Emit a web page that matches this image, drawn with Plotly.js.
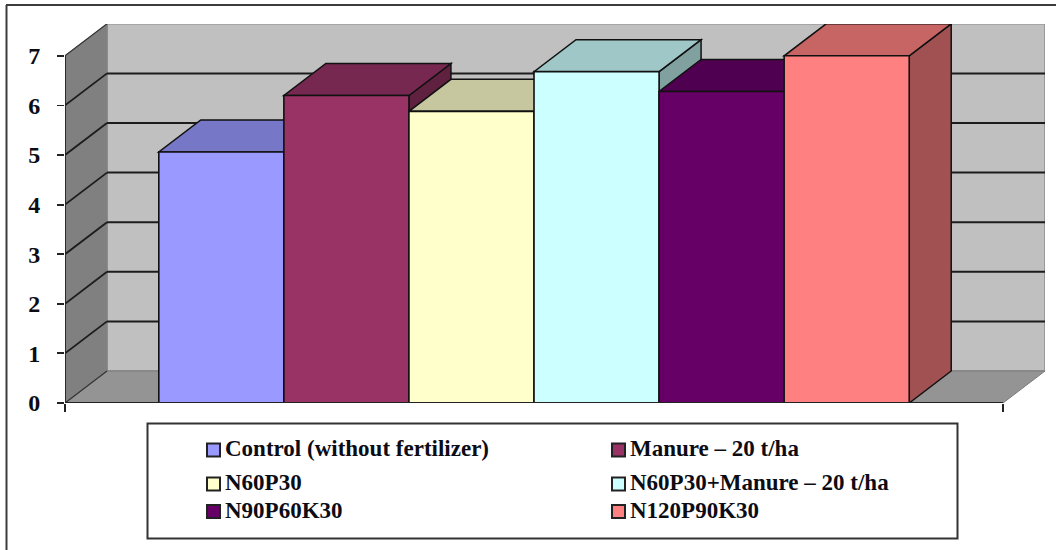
<!DOCTYPE html>
<html>
<head>
<meta charset="utf-8">
<script src="https://cdn.plot.ly/plotly-3.0.1.min.js"></script>
<style>html,body{margin:0;padding:0;background:#fff}</style>
</head>
<body>
<div id="chart" style="width:1056px;height:550px"></div>
<script>
// Yield by fertilizer treatment, drawn as a pseudo-3D column chart
const treatments = ["Control (without fertilizer)", "Manure – 20 t/ha", "N60P30",
                    "N60P30+Manure – 20 t/ha", "N90P60K30", "N120P90K30"];
const yields = [5.06, 6.2, 5.88, 6.68, 6.28, 7.0];
const frontColors = ["#9999FF", "#993366", "#FFFFCC", "#CCFFFF", "#660066", "#FF8080"];
const yTicks = [0, 1, 2, 3, 4, 5, 6, 7];

const W = 1056, H = 550;
const margin = {l: 65, r: 11, t: 24, b: 147, pad: 0};
const plotW = W - margin.l - margin.r, plotH = H - margin.t - margin.b;

// Axis units: one x unit is a column width, gap of 0.75 column on each side
const gap = 0.75, yMax = 7;
const xMax = treatments.length + 2 * gap;
const pxPerX = 125.07, pxPerY = 49.6;
const depthX = 42 / pxPerX, depthY = 32 / pxPerY;
const xRange = [0, plotW / pxPerX], yRange = [0, plotH / pxPerY];

function shade(hex, f) {
  const n = parseInt(hex.slice(1), 16);
  const c = [n >> 16, (n >> 8) & 255, n & 255].map(v => Math.round(v * f));
  return "rgb(" + c.join(",") + ")";
}
const path = pts => "M" + pts.map(p => p[0] + " " + p[1]).join(" L") + " Z";
const poly = (pts, fill, color, width) => ({
  type: "path", xref: "x", yref: "y", layer: "below", path: path(pts),
  fillcolor: fill, line: {color: color, width: width}
});
const seg = (a, b, color, width) => ({
  type: "line", xref: "x", yref: "y", layer: "below",
  x0: a[0], y0: a[1], x1: b[0], y1: b[1], line: {color: color, width: width}
});

const shapes = [];
// Walls and floor
shapes.push(poly([[depthX, depthY], [xMax + depthX, depthY], [xMax + depthX, yMax + depthY], [depthX, yMax + depthY]], "#C0C0C0", "#8a8a8a", 1.5));
shapes.push(poly([[0, 0], [depthX, depthY], [depthX, yMax + depthY], [0, yMax]], "#808080", "#808080", 1));
shapes.push(poly([[0, 0], [xMax, 0], [xMax + depthX, depthY], [depthX, depthY]], "#949494", "#7a7a7a", 1));
// Gridlines run along the side wall and across the back wall
yTicks.filter(v => v > 0 && v < yMax).forEach(v => {
  shapes.push(seg([0, v], [depthX, v + depthY], "#1c1c1c", 1.8));
  shapes.push(seg([depthX, v + depthY], [xMax + depthX, v + depthY], "#1c1c1c", 2));
});
shapes.push(seg([0, yMax], [depthX, yMax + depthY], "#333", 1.2));
shapes.push(seg([0, 0], [depthX, depthY], "#333", 1.2));

// Side and top faces of each column; fronts come from the bar traces
yields.forEach((v, i) => {
  const x0 = gap + i, x1 = x0 + 1, c = frontColors[i];
  shapes.push(poly([[x1, 0], [x1 + depthX, depthY], [x1 + depthX, v + depthY], [x1, v]], shade(c, 0.63), "#111", 1.5));
  shapes.push(poly([[x0, v], [x1, v], [x1 + depthX, v + depthY], [x0 + depthX, v + depthY]], shade(c, 0.78), "#111", 1.5));
});

// Legend panel, laid out in page pixels
const toX = px => (px - margin.l) / plotW;
const toY = py => 1 - (py - margin.t) / plotH;
const pageRect = (x0, y0, x1, y1, fill, color, width) => ({
  type: "rect", xref: "paper", yref: "paper", layer: "above",
  x0: toX(x0), x1: toX(x1), y0: toY(y0), y1: toY(y1),
  fillcolor: fill, line: {color: color, width: width}
});
const pageLine = (x0, y0, x1, y1) => ({
  type: "line", xref: "paper", yref: "paper", layer: "above",
  x0: toX(x0), x1: toX(x1), y0: toY(y0), y1: toY(y1),
  line: {color: "#3c3c3c", width: 2}
});
shapes.push(pageLine(6.5, 5, 6.5, H), pageLine(6, 5, W, 5));
shapes.push(pageRect(147.5, 423.5, 957.5, 538.5, "#fff", "#333", 2));

const legendRows = [450, 484, 511.5];
const legendCols = [{swatch: 207, text: 224}, {swatch: 612, text: 629}];
const annotations = [];
treatments.forEach((name, i) => {
  const col = legendCols[i % 2], cy = legendRows[Math.floor(i / 2)];
  shapes.push(pageRect(col.swatch, cy - 6.5, col.swatch + 13, cy + 6.5, frontColors[i], "#222", 2));
  annotations.push({
    xref: "paper", yref: "paper", x: toX(col.text), y: toY(cy - 1.5),
    xanchor: "left", yanchor: "middle", showarrow: false, text: name,
    font: {family: "Liberation Serif", size: 23, color: "#0c0c14", weight: 700},
    borderpad: 0
  });
});

// Column fronts
const traces = treatments.map((name, i) => ({
  type: "bar", name: name, x: [gap + i + 0.5], y: [yields[i]], width: 1,
  marker: {color: frontColors[i], line: {color: "#111", width: 1.6}},
  hovertemplate: name + ": %{y}<extra></extra>"
}));
// Axis lines stop at the front plane, so the plot area can hold the depth offset
traces.push({type: "scatter", mode: "lines", x: [0, 0], y: [0, yMax], line: {color: "#222", width: 1.8}, hoverinfo: "skip", showlegend: false});
traces.push({type: "scatter", mode: "lines", x: [0, xMax], y: [0, 0], line: {color: "#222", width: 1.8}, hoverinfo: "skip", showlegend: false});

const layout = {
  width: W, height: H, margin: margin, autosize: false,
  paper_bgcolor: "#fff", plot_bgcolor: "rgba(0,0,0,0)",
  barmode: "overlay", showlegend: false, shapes: shapes, annotations: annotations,
  xaxis: {
    range: xRange, showgrid: false, zeroline: false, showline: false, fixedrange: true,
    tickmode: "array", tickvals: [0, xMax], showticklabels: false,
    ticks: "outside", ticklen: 8, tickwidth: 1.8, tickcolor: "#222"
  },
  yaxis: {
    range: yRange, showgrid: false, zeroline: false, showline: false, fixedrange: true,
    tickmode: "array", tickvals: yTicks, ticktext: yTicks.map(String),
    ticks: "outside", ticklen: 7, tickwidth: 1.8, tickcolor: "#222", ticklabelstandoff: 12,
    tickfont: {family: "Liberation Serif", size: 24, color: "#0c0c14", weight: 700}
  }
};
Plotly.newPlot("chart", traces, layout, {displayModeBar: false, staticPlot: true});
</script>
</body>
</html>
